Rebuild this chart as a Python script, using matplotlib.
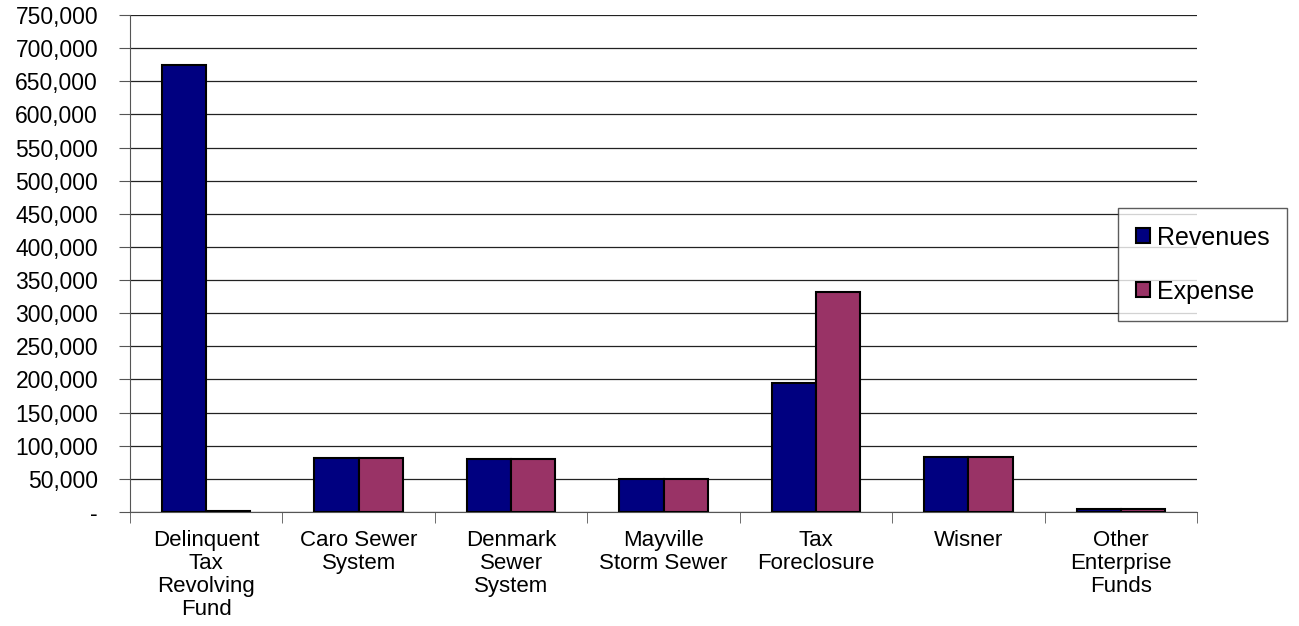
import matplotlib.pyplot as plt
import numpy as np
from matplotlib.ticker import FuncFormatter, MultipleLocator, FixedLocator

plt.rcParams['font.family'] = ['Liberation Sans', 'DejaVu Sans']

categories = ['Delinquent\nTax\nRevolving\nFund', 'Caro Sewer\nSystem', 'Denmark\nSewer\nSystem',
              'Mayville\nStorm Sewer', 'Tax\nForeclosure', 'Wisner', 'Other\nEnterprise\nFunds']
revenues = [674000, 82000, 80000, 50000, 194000, 83000, 5000]
expense = [2000, 82000, 80000, 50000, 332000, 83000, 5000]

fig = plt.figure(figsize=(12.99, 6.26), dpi=100)
ax = fig.add_axes([0.1001, 0.1821, 0.8214, 0.7939])

x = np.arange(len(categories))
w = 0.29
ax.bar(x - w/2, revenues, w, color='#000080', edgecolor='black', linewidth=1.5, label='Revenues', zorder=3)
ax.bar(x + w/2, expense, w, color='#993366', edgecolor='black', linewidth=1.5, label='Expense', zorder=3)

ax.set_xlim(-0.5, len(categories) - 0.5)
ax.set_ylim(0, 750000)
ax.yaxis.set_major_locator(MultipleLocator(50000))
ax.yaxis.set_major_formatter(FuncFormatter(lambda v, p: '-' if v == 0 else f'{int(v):,}'))
ax.grid(axis='y', color='#222222', linewidth=0.9, zorder=0)

ax.set_xticks(x)
ax.set_xticklabels(categories, fontsize=16, linespacing=1.13)
ax.xaxis.set_minor_locator(FixedLocator(np.arange(-0.5, len(categories), 1)))
ax.tick_params(axis='x', which='major', length=0, pad=13)
ax.tick_params(axis='x', which='minor', length=8, color='#555555')
ax.tick_params(axis='y', length=8, color='#555555', labelsize=16.5, pad=15)

for s in ['top', 'right']:
    ax.spines[s].set_visible(False)
for s in ['left', 'bottom']:
    ax.spines[s].set_color('#555555')

leg = ax.legend(loc='upper left', bbox_to_anchor=(0.926, 0.6117), fontsize=18, frameon=True,
                fancybox=False, edgecolor='#333333', handlelength=0.56, handleheight=0.56,
                handletextpad=0.3, labelspacing=1.2, borderpad=0.7, borderaxespad=0)
leg.get_frame().set_linewidth(1.0)

fig.savefig('out.png', dpi=100)
